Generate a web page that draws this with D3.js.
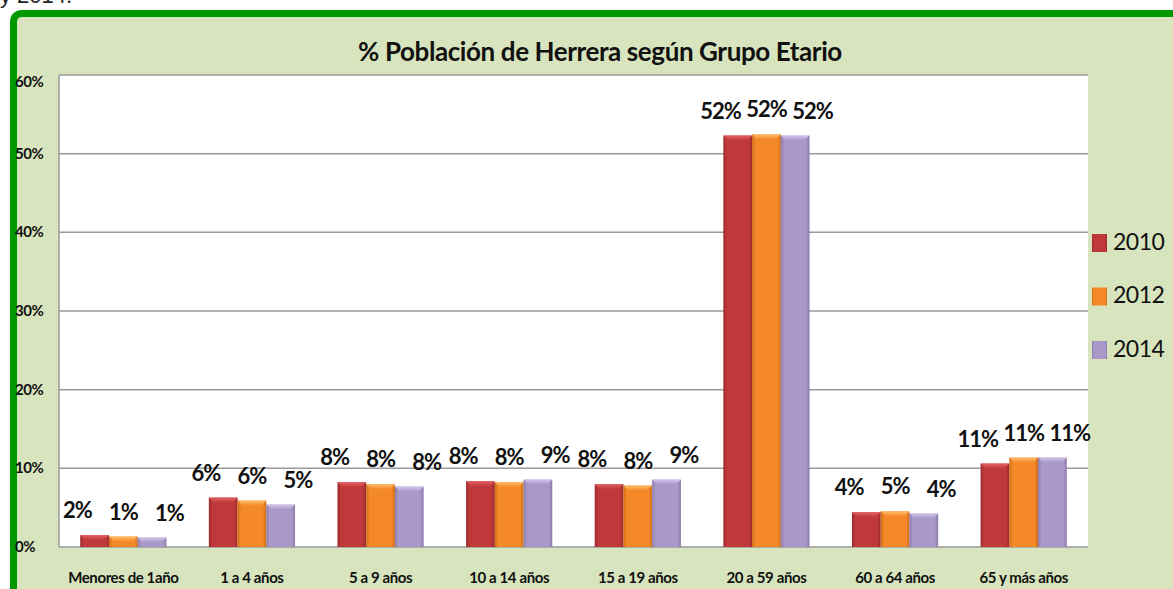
<!DOCTYPE html>
<html lang="es">
<head>
    <meta charset="UTF-8">
    <title>% Población de Herrera según Grupo Etario</title>
    <script src="https://d3js.org/d3.v7.min.js"></script>
    <style>
        body { margin: 0; background: #ffffff; overflow: hidden; }
        svg { display: block; font-family: Lato, "Open Sans", sans-serif; }
    </style>
</head>
<body>
    <div id="chart"></div>
    <script>
        // Data (percent of population)
        const categories = ["Menores de 1año", "1 a 4 años", "5 a 9 años", "10 a 14 años",
                            "15 a 19 años", "20 a 59 años", "60 a 64 años", "65 y más años"];
        const years = ["2010", "2012", "2014"];
        const values2010 = [1.52, 6.28, 8.23, 8.36, 7.98, 52.30, 4.41, 10.6];
        const values2012 = [1.32, 5.90, 7.98, 8.23, 7.81, 52.45, 4.54, 11.37];
        const values2014 = [1.20, 5.39, 7.68, 8.57, 8.57, 52.30, 4.25, 11.37];
        const yTicks = [0, 10, 20, 30, 40, 50, 60];
        const title = "% Población de Herrera según Grupo Etario";

        const seriesValues = [values2010, values2012, values2014];
        const data = categories.map((c, i) => ({
            category: c,
            values: years.map((y, j) => ({ year: y, value: seriesValues[j][i] }))
        }));

        // Colors per series: [edge, main, top bevel]
        const colors = {
            "2010": ["#9a2a2a", "#c0393a", "#e26060"],
            "2012": ["#d06c15", "#f5892a", "#ffbe6a"],
            "2014": ["#8c7aab", "#aa98c9", "#d2c6ea"]
        };

        const width = 1173, height = 589;
        const plot = { left: 59, right: 1088, top: 75, bottom: 547 };

        const svg = d3.select("#chart").append("svg")
            .attr("width", width)
            .attr("height", height);

        const defs = svg.append("defs");
        years.forEach(y => {
            const g = defs.append("linearGradient")
                .attr("id", "grad" + y)
                .attr("x1", "0%").attr("x2", "100%").attr("y1", "0%").attr("y2", "0%");
            g.append("stop").attr("offset", "0%").attr("stop-color", colors[y][0]);
            g.append("stop").attr("offset", "12%").attr("stop-color", colors[y][1]);
            g.append("stop").attr("offset", "88%").attr("stop-color", colors[y][1]);
            g.append("stop").attr("offset", "100%").attr("stop-color", colors[y][0]);
            const t = defs.append("linearGradient")
                .attr("id", "top" + y)
                .attr("x1", "0%").attr("x2", "0%").attr("y1", "0%").attr("y2", "100%");
            t.append("stop").attr("offset", "0%").attr("stop-color", colors[y][2]);
            t.append("stop").attr("offset", "100%").attr("stop-color", colors[y][1]);
        });

        // Text from the document above the chart (cut at the top edge, as in the source)
        svg.append("text")
            .attr("x", 0)
            .attr("y", 3)
            .attr("font-family", "Liberation Sans, Arial, sans-serif")
            .attr("font-size", 22)
            .attr("fill", "#222")
            .text("y 2014.");

        // Chart area with green frame
        svg.append("rect")
            .attr("x", 13.5)
            .attr("y", 13.5)
            .attr("width", 1200)
            .attr("height", 620)
            .attr("rx", 8)
            .attr("fill", "#d7e4bd")
            .attr("stroke", "#009a00")
            .attr("stroke-width", 7);

        // Plot area
        svg.append("rect")
            .attr("x", plot.left)
            .attr("y", plot.top)
            .attr("width", plot.right - plot.left)
            .attr("height", plot.bottom - plot.top)
            .attr("fill", "#ffffff");

        // Scales
        const x0 = d3.scaleBand()
            .domain(categories)
            .range([plot.left, plot.right])
            .paddingInner(0.33)
            .paddingOuter(0.165);

        const x1 = d3.scaleBand()
            .domain(years)
            .range([0, x0.bandwidth()]);

        const y = d3.scaleLinear()
            .domain([0, 60])
            .range([plot.bottom, plot.top]);

        // Gridlines
        svg.append("g")
            .selectAll("line")
            .data(yTicks)
            .join("line")
            .attr("x1", plot.left)
            .attr("x2", plot.right)
            .attr("y1", d => y(d))
            .attr("y2", d => y(d))
            .attr("stroke", "#9a9a9a")
            .attr("stroke-width", 1.5);

        // Left axis line
        svg.append("line")
            .attr("x1", plot.left).attr("x2", plot.left)
            .attr("y1", plot.top).attr("y2", plot.bottom)
            .attr("stroke", "#9a9a9a")
            .attr("stroke-width", 1.5);

        // Y tick labels
        svg.append("g")
            .selectAll("text")
            .data(yTicks)
            .join("text")
            .attr("x", 15)
            .attr("y", d => Math.max(y(d) + 1, plot.top + 8))
            .attr("dominant-baseline", "middle")
            .attr("font-size", 15)
            .attr("font-weight", "bold")
            .attr("letter-spacing", -0.5)
            .attr("fill", "#111")
            .text(d => d + "%");

        // Bars
        const groups = svg.append("g")
            .selectAll("g")
            .data(data)
            .join("g")
            .attr("transform", d => `translate(${x0(d.category)},0)`);

        groups.selectAll("rect.bar")
            .data(d => d.values)
            .join("rect")
            .attr("class", "bar")
            .attr("x", d => x1(d.year))
            .attr("y", d => y(d.value))
            .attr("width", x1.bandwidth())
            .attr("height", d => y(0) - y(d.value))
            .attr("fill", d => `url(#grad${d.year})`);

        // Top bevel of each bar
        groups.selectAll("path.bevel")
            .data(d => d.values)
            .join("path")
            .attr("class", "bevel")
            .attr("d", d => {
                const bx = x1(d.year), bw = x1.bandwidth(), by = y(d.value), b = 5;
                return `M${bx},${by}H${bx + bw}L${bx + bw - b},${by + b}H${bx + b}Z`;
            })
            .attr("fill", d => `url(#top${d.year})`);

        // Value labels, spread a little wider than the bars
        const labelStep = 46;
        groups.selectAll("text")
            .data(d => d.values)
            .join("text")
            .attr("x", (d, i) => x0.bandwidth() / 2 + (i - 1) * labelStep)
            .attr("y", d => y(d.value) - 17)
            .attr("text-anchor", "middle")
            .attr("font-size", 22)
            .attr("font-weight", "bold")
            .attr("letter-spacing", -1)
            .attr("fill", "#111")
            .text(d => Math.round(d.value) + "%");

        // Category labels
        svg.append("g")
            .selectAll("text")
            .data(categories)
            .join("text")
            .attr("x", d => x0(d) + x0.bandwidth() / 2)
            .attr("y", 583)
            .attr("text-anchor", "middle")
            .attr("font-size", 15)
            .attr("font-weight", "bold")
            .attr("letter-spacing", -0.4)
            .attr("fill", "#111")
            .text(d => d);

        // Title
        svg.append("text")
            .attr("x", 600)
            .attr("y", 61)
            .attr("text-anchor", "middle")
            .attr("font-size", 26)
            .attr("font-weight", "bold")
            .attr("letter-spacing", -0.4)
            .attr("fill", "#111")
            .text(title);

        // Legend
        const legend = svg.append("g")
            .selectAll("g")
            .data(years)
            .join("g")
            .attr("transform", (d, i) => `translate(1092,${243 + i * 53.5})`);

        legend.append("rect")
            .attr("x", 0)
            .attr("y", -9)
            .attr("width", 15)
            .attr("height", 18)
            .attr("fill", d => `url(#grad${d})`);

        legend.append("text")
            .attr("x", 21)
            .attr("y", 1)
            .attr("dominant-baseline", "middle")
            .attr("font-size", 23)
            .attr("letter-spacing", -0.5)
            .attr("fill", "#111")
            .text(d => d);
    </script>
</body>
</html>
